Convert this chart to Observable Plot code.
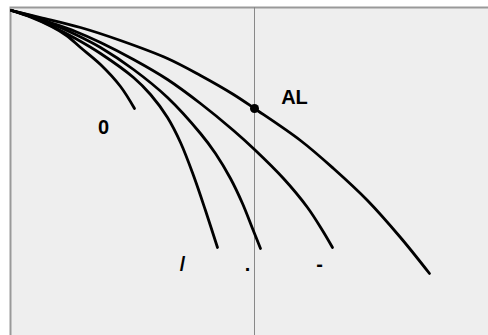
<!DOCTYPE html>
<html><head><meta charset="utf-8">
<script src="https://cdn.jsdelivr.net/npm/d3@7"></script>
<script src="https://cdn.jsdelivr.net/npm/@observablehq/plot@0.6"></script>
<style>body{margin:0;background:#fff;} #chart svg{overflow:hidden}</style>
</head><body><div id="chart"></div>
<script>
// Curves (x, y) with y increasing downward from the common origin
const curve0  = [[0,0],[20,7],[40,16],[55,25],[69,37],[89,54],[109,76],[123,98]];
const curve1  = [[0,0],[19,6],[39,15],[64,28],[89,43],[122,67],[139,84],[156,107],[169,132],[182,165],[194,200],[206,237]];
const curve2  = [[0,0],[19,6],[39,13],[64,24],[89,37],[122,59],[156,87],[189,123],[204,143],[219,168],[231,193],[241,218],[249,238]];
const curve3  = [[0,0],[19,5],[39,12],[64,21],[89,32],[122,49],[156,69],[189,93],[222,120],[243,139],[272,168],[296,197],[311,220],[321,237]];
const curve4  = [[0,0],[29,7],[69,17],[109,30],[156,48],[189,65],[222,84],[243,98],[289,130],[322,158],[356,190],[389,227],[418,263]];
const seriesNames = ["0","/",".","-","AL"];
const seriesPoints = [curve0, curve1, curve2, curve3, curve4];

const labels = ["0","/",".","-","AL"];
const labelX = [92,171,236,308,283];
const labelY = [123,260,260,260,93];

const pointAL = [243,98];
const markerX = 243;

const rows = seriesNames.flatMap((s,i) => seriesPoints[i].map(([x,y]) => ({series:s, x, y})));
const labelRows = labels.map((t,i) => ({text:t, x:labelX[i], y:labelY[i]}));

const chart = Plot.plot({
  width: 488, height: 335,
  marginLeft: 10, marginTop: 7, marginRight: 0, marginBottom: 0,
  x: {domain: [-1, 477], axis: null},
  y: {domain: [-3, 325], reverse: true, axis: null},
  style: {background: "white", overflow: "hidden"},
  marks: [
    Plot.frame({fill: "#eeeeee", stroke: "#999999", strokeWidth: 2, insetRight: -4, insetBottom: -4}),
    Plot.ruleX([markerX], {stroke: "#888888", strokeWidth: 1}),
    Plot.line(rows, {x: "x", y: "y", z: "series", stroke: "black", strokeWidth: 2.8, curve: "catmull-rom"}),
    Plot.dot([pointAL], {x: d => d[0], y: d => d[1], r: 4.5, fill: "black"}),
    Plot.text(labelRows, {x: "x", y: "y", text: "text", fontSize: 20, fontWeight: "bold", lineAnchor: "bottom", fontFamily: "Liberation Sans", fill: "black"})
  ]
});
document.getElementById("chart").append(chart);
</script>
</body></html>
